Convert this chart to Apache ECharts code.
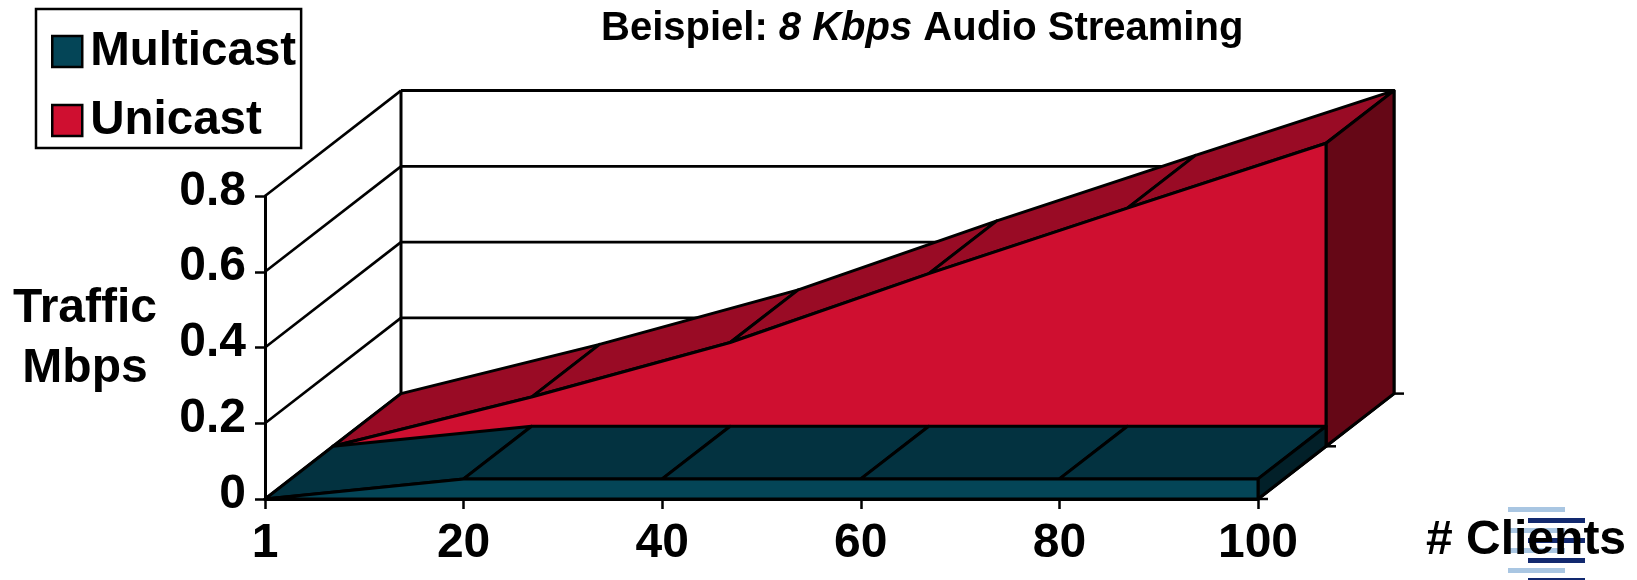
<!DOCTYPE html>
<html>
<head>
<meta charset="utf-8">
<style>html,body{margin:0;padding:0;background:#fff}#chart{width:1637px;height:580px}</style>
<script src="https://cdn.jsdelivr.net/npm/echarts@6/dist/echarts.min.js"></script>
</head>
<body>
<div id="chart"></div>
<script>
const clients = ['1', '20', '40', '60', '80', '100'];
const yTicks = [0.2, 0.4, 0.6, 0.8];
const multicast = [0, 0.053, 0.053, 0.053, 0.053, 0.053];
const unicast = [0, 0.13, 0.274, 0.456, 0.629, 0.8];

const FONT = '"Liberation Sans", Arial, sans-serif';
const DEPTH = [68, -52.7]; // screen offset of one depth row

const shift = (p, rows) => [p[0] + DEPTH[0] * rows, p[1] + DEPTH[1] * rows];
const stroke = w => ({ stroke: '#000', lineWidth: w, lineJoin: 'round' });
const poly = (points, fill, w) => ({
  type: 'polygon', shape: { points }, style: Object.assign({ fill }, stroke(w)), silent: true
});
const seg = (a, b, w) => ({
  type: 'line', shape: { x1: a[0], y1: a[1], x2: b[0], y2: b[1] }, style: stroke(w), silent: true
});

// one slab of the 3D area chart, in depth row `row`
function slab(values, row, colors) {
  return function (params, api) {
    if (params.dataIndex !== 0) return null;
    const top = values.map((v, i) => api.coord([i, v]));
    const base = values.map((v, i) => api.coord([i, 0]));
    const last = values.length - 1;
    const children = [];
    for (let i = 0; i < last; i++) {
      children.push(poly([
        shift(top[i], row), shift(top[i + 1], row),
        shift(top[i + 1], row + 1), shift(top[i], row + 1)
      ], colors.top, 3));
    }
    children.push(poly([
      shift(top[last], row), shift(top[last], row + 1),
      shift(base[last], row + 1), shift(base[last], row)
    ], colors.side, 3));
    children.push(poly(
      top.map(p => shift(p, row)).concat([shift(base[last], row), shift(base[0], row)]),
      colors.front, 3
    ));
    return { type: 'group', children };
  };
}

// back wall, left wall and floor edge
function walls(params, api) {
  const last = clients.length - 1;
  const children = [];
  const v = api.value(1);
  const a = api.coord([0, v]);
  const b = api.coord([last, v]);
  children.push(seg(a, shift(a, 2), 2.6));
  children.push(seg(shift(a, 2), shift(b, 2), params.dataIndex === yTicks.length - 1 ? 3 : 2.6));
  if (params.dataIndex === yTicks.length - 1) {
    const o = api.coord([0, 0]);
    const r = api.coord([last, 0]);
    children.push(seg(o, shift(o, 2), 2.6));
    children.push(seg(shift(o, 2), shift(a, 2), 3));
    children.push(seg(shift(r, 2), shift(b, 2), 3));
    children.push(seg(r, shift(r, 2), 3));
    [0, 1, 2].forEach(k => {
      const p = shift(r, k);
      children.push(seg(p, [p[0] + 10, p[1]], 2.5));
    });
  }
  return { type: 'group', children };
}

const indexed = arr => arr.map((v, i) => [i, v]);
const chart = echarts.init(document.getElementById('chart'), null, { renderer: 'canvas' });

const logoBars = [
  [1508, 507, '#a9c6e2'], [1508, 528, '#a9c6e2'], [1508, 548, '#a9c6e2'], [1508, 568, '#a9c6e2'],
  [1528, 518, '#12296f'], [1528, 538, '#12296f'], [1528, 558, '#12296f'], [1528, 578, '#12296f']
];

chart.setOption({
  animation: false,
  backgroundColor: '#fff',
  title: [
    {
      left: 601, top: 9, padding: 0,
      text: '{b|Beispiel: }{i|8 Kbps}{b| Audio Streaming}',
      textStyle: {
        rich: {
          b: { fontFamily: FONT, fontWeight: 'bold', fontSize: 40, color: '#000' },
          i: { fontFamily: FONT, fontWeight: 'bold', fontStyle: 'italic', fontSize: 40, color: '#000' }
        }
      }
    },
    {
      left: 85, top: 279, padding: 0, textAlign: 'center',
      text: 'Traffic\nMbps',
      textStyle: { fontFamily: FONT, fontWeight: 'bold', fontSize: 48, color: '#000', lineHeight: 60 }
    },
    {
      left: 1426, top: 517, padding: 0,
      text: '# Clients',
      textStyle: { fontFamily: FONT, fontWeight: 'bold', fontSize: 48, color: '#000' }
    }
  ],
  legend: {
    left: 36, top: 9, orient: 'vertical',
    data: ['Multicast', 'Unicast'],
    icon: 'rect', itemWidth: 30, itemHeight: 31, itemGap: 14,
    backgroundColor: '#fff', borderColor: '#000', borderWidth: 2.5,
    padding: [15, 5, 0, 15],
    itemStyle: { borderColor: '#000', borderWidth: 2.5 },
    textStyle: { fontFamily: FONT, fontWeight: 'bold', fontSize: 47.5, color: '#000', lineHeight: 55, padding: [0, 0, 0, 3] }
  },
  grid: { left: 265, right: 379, top: 196, bottom: 81, containLabel: false },
  xAxis: {
    type: 'category', data: clients, boundaryGap: false,
    axisLine: { show: true, lineStyle: { color: '#000', width: 3 } },
    axisTick: { show: true, length: 10, lineStyle: { color: '#000', width: 2.5 } },
    axisLabel: { interval: 0, margin: 21, fontFamily: FONT, fontWeight: 'bold', fontSize: 48, color: '#000', hideOverlap: false }
  },
  yAxis: {
    type: 'value', min: 0, max: 0.8, interval: 0.2,
    splitLine: { show: false },
    axisLine: { show: true, lineStyle: { color: '#000', width: 3 } },
    axisTick: { show: true, length: 10, lineStyle: { color: '#000', width: 2.5 } },
    axisLabel: {
      margin: 19,
      formatter: v => '{t|' + (v === 0 ? '0' : v.toFixed(1)) + '}',
      rich: { t: { fontFamily: FONT, fontWeight: 'bold', fontSize: 48, color: '#000', padding: [0, 0, 9, 0] } }
    }
  },
  graphic: logoBars.map(b => ({
    type: 'rect', z: -1, silent: true,
    shape: { x: b[0], y: b[1], width: 57, height: 5 },
    style: { fill: b[2] }
  })),
  series: [
    { name: 'Walls', type: 'custom', silent: true, data: yTicks.map(v => [0, v]), renderItem: walls },
    {
      name: 'Unicast', type: 'custom', silent: true, data: indexed(unicast),
      itemStyle: { color: '#cf0f30' },
      renderItem: slab(unicast, 1, { front: '#cf0f30', top: '#990b25', side: '#650716' })
    },
    {
      name: 'Multicast', type: 'custom', silent: true, data: indexed(multicast),
      itemStyle: { color: '#044557' },
      renderItem: slab(multicast, 0, { front: '#044557', top: '#033240', side: '#022029' })
    }
  ]
});
</script>
</body>
</html>
